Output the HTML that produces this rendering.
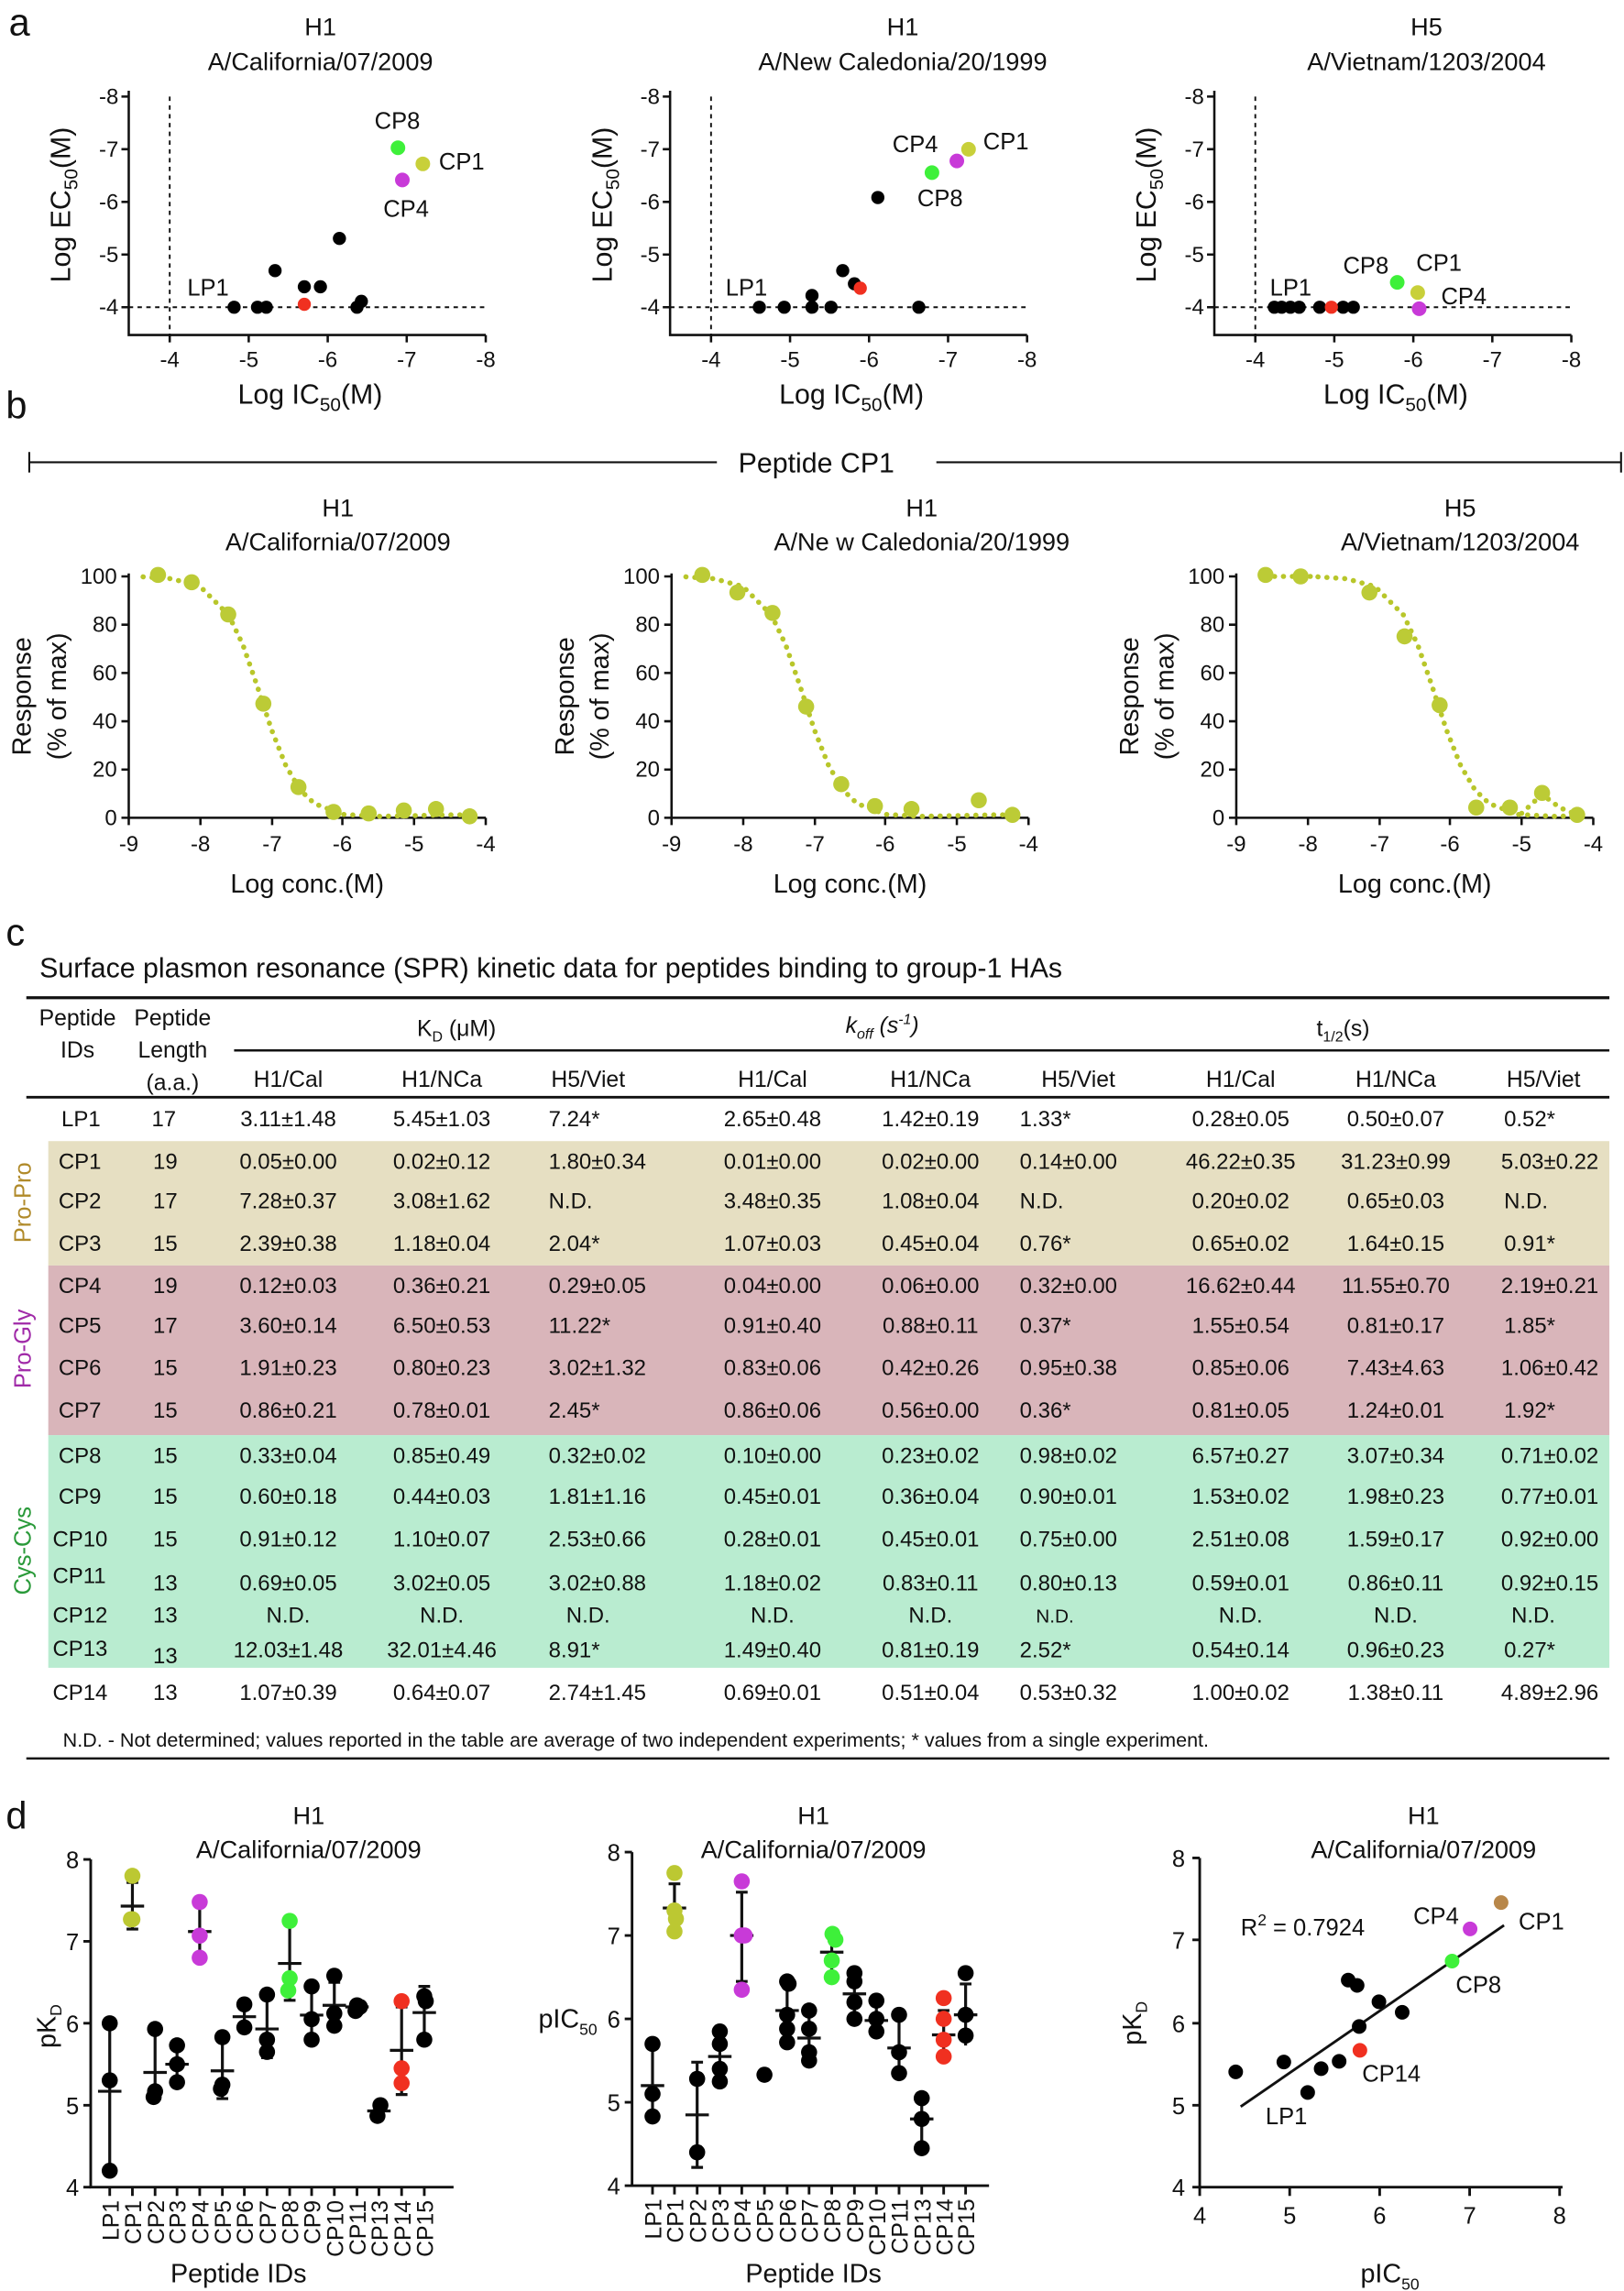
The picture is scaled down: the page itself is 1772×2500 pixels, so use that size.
<!DOCTYPE html>
<html><head><meta charset="utf-8"><style>
html,body{margin:0;padding:0;background:#fff}
svg{display:block}
text{font-family:"Liberation Sans",sans-serif;fill:#111}
</style></head><body>
<svg width="1772" height="2500" viewBox="0 0 1110 1566" preserveAspectRatio="none" xmlns="http://www.w3.org/2000/svg">
<text x="6" y="24" font-size="26">a</text>
<g font-size="17" text-anchor="middle">
<text x="219" y="24">H1</text><text x="219" y="48">A/California/07/2009</text>
<text x="617" y="24">H1</text><text x="617" y="48">A/New Caledonia/20/1999</text>
<text x="975" y="24">H5</text><text x="975" y="48">A/Vietnam/1203/2004</text>
</g>
<defs>
<g id="axA" stroke="#111" stroke-width="1.6" fill="none">
<path d="M88,62V229H332"/>
<path d="M83,66H88M83,102H88M83,138H88M83,174H88M83,210H88"/>
<path d="M116,229v5M170,229v5M224,229v5M278,229v5M332,229v5"/>
<path d="M116,66V229M88,210H332" stroke-dasharray="3 3" stroke-width="1.2"/>
</g>
<g id="axAt" font-size="15">
<g text-anchor="end"><text x="81" y="71">-8</text><text x="81" y="107">-7</text><text x="81" y="143">-6</text><text x="81" y="179">-5</text><text x="81" y="215">-4</text></g>
<g text-anchor="middle"><text x="116" y="251">-4</text><text x="170" y="251">-5</text><text x="224" y="251">-6</text><text x="278" y="251">-7</text><text x="332" y="251">-8</text></g>
<text transform="translate(48,140) rotate(-90)" text-anchor="middle" font-size="19">Log EC<tspan font-size="13" dy="5">50</tspan><tspan dy="-5">(M)</tspan></text>
<text x="212" y="276" text-anchor="middle" font-size="19">Log IC<tspan font-size="13" dy="5">50</tspan><tspan dy="-5">(M)</tspan></text>
</g>
<clipPath id="c3"><rect x="840" y="380" width="240" height="190"/></clipPath>
</defs>
<use href="#axA"/><use href="#axAt"/>
<use href="#axA" x="370"/><use href="#axAt" x="370"/>
<use href="#axA" x="742"/><use href="#axAt" x="742"/>
<g fill="#000">
<circle cx="160" cy="210" r="4.5"/><circle cx="176" cy="210" r="4.5"/><circle cx="182" cy="210" r="4.5"/><circle cx="188" cy="185" r="4.5"/><circle cx="208" cy="196" r="4.5"/><circle cx="219" cy="196" r="4.5"/><circle cx="232" cy="163" r="4.5"/><circle cx="247" cy="206" r="4.5"/><circle cx="244" cy="210" r="4.5"/>
</g>
<circle cx="208" cy="208" r="4.5" fill="#f03020"/>
<circle cx="272" cy="101" r="5" fill="#3ef03a"/><circle cx="289" cy="112" r="5" fill="#c8d03a"/><circle cx="275" cy="123" r="5" fill="#c83ad8"/>
<g font-size="16"><text x="256" y="88">CP8</text><text x="300" y="116">CP1</text><text x="262" y="148">CP4</text><text x="128" y="202">LP1</text></g>
<g fill="#000">
<circle cx="519" cy="210" r="4.5"/><circle cx="536" cy="210" r="4.5"/><circle cx="555" cy="210" r="4.5"/><circle cx="555" cy="202" r="4.5"/><circle cx="568" cy="210" r="4.5"/><circle cx="576" cy="185" r="4.5"/><circle cx="584" cy="194" r="4.5"/><circle cx="600" cy="135" r="4.5"/><circle cx="628" cy="210" r="4.5"/>
</g>
<circle cx="588" cy="197" r="4.5" fill="#f03020"/>
<circle cx="637" cy="118" r="5" fill="#3ef03a"/><circle cx="654" cy="110" r="5" fill="#c83ad8"/><circle cx="662" cy="102" r="5" fill="#c8d03a"/>
<g font-size="16"><text x="610" y="104">CP4</text><text x="672" y="102">CP1</text><text x="627" y="141">CP8</text><text x="496" y="202">LP1</text></g>
<g fill="#000">
<circle cx="871" cy="210" r="4.5"/><circle cx="876" cy="210" r="4.5"/><circle cx="882" cy="210" r="4.5"/><circle cx="888" cy="210" r="4.5"/><circle cx="902" cy="210" r="4.5"/><circle cx="918" cy="210" r="4.5"/><circle cx="925" cy="210" r="4.5"/>
</g>
<circle cx="910" cy="210" r="4.5" fill="#f03020"/>
<circle cx="955" cy="193" r="5" fill="#3ef03a"/><circle cx="969" cy="200" r="5" fill="#c8d03a"/><circle cx="970" cy="211" r="5" fill="#c83ad8"/>
<g font-size="16"><text x="918" y="187">CP8</text><text x="968" y="185">CP1</text><text x="985" y="208">CP4</text><text x="868" y="202">LP1</text></g>

<text x="4" y="286" font-size="26">b</text>
<path d="M20,309V323M20,316H490M640,316H1108M1108,309V323" stroke="#111" stroke-width="1.3" fill="none"/>
<text x="558" y="323" font-size="19" text-anchor="middle">Peptide CP1</text>
<g font-size="17" text-anchor="middle">
<text x="231" y="353">H1</text><text x="231" y="376">A/California/07/2009</text>
<text x="630" y="353">H1</text><text x="630" y="376">A/Ne w Caledonia/20/1999</text>
<text x="998" y="353">H5</text><text x="998" y="376">A/Vietnam/1203/2004</text>
</g>
<defs>
<g id="axB">
<g stroke="#111" stroke-width="1.6" fill="none">
<path d="M88,392V559H332"/>
<path d="M83,394H88M83,427H88M83,460H88M83,493H88M83,526H88M83,559H88"/>
<path d="M88,559v5M137,559v5M186,559v5M234,559v5M283,559v5M332,559v5"/>
</g>
<g font-size="15" text-anchor="end"><text x="80" y="399">100</text><text x="80" y="432">80</text><text x="80" y="465">60</text><text x="80" y="498">40</text><text x="80" y="531">20</text><text x="80" y="564">0</text></g>
<g font-size="15" text-anchor="middle"><text x="88" y="582">-9</text><text x="137" y="582">-8</text><text x="186" y="582">-7</text><text x="234" y="582">-6</text><text x="283" y="582">-5</text><text x="332" y="582">-4</text></g>
<text x="210" y="610" font-size="18" text-anchor="middle">Log conc.(M)</text>
</g>
<path id="curve" d="M97.8,394.3 L117.3,395.6 L136.8,400.9 L156.3,420.4 L166.1,441 L175.8,468.9 L185.6,498.8 L195.4,523.4 L205.1,539.9 L214.9,549.3 L234.4,556.7 L258.8,558 L283.2,557.5 L307.6,557 L322.2,557" fill="none" stroke="#b8c62a" stroke-width="3.5" stroke-dasharray="0.1 6" stroke-linecap="round"/>
</defs>
<use href="#axB"/><use href="#axB" x="371"/><use href="#axB" x="757"/>
<g font-size="18" text-anchor="middle">
<text transform="translate(21,476) rotate(-90)">Response</text><text transform="translate(45,476) rotate(-90)">(% of max)</text>
<text transform="translate(392,476) rotate(-90)">Response</text><text transform="translate(416,476) rotate(-90)">(% of max)</text>
<text transform="translate(778,476) rotate(-90)">Response</text><text transform="translate(802,476) rotate(-90)">(% of max)</text>
</g>
<use href="#curve"/>
<use href="#curve" x="371"/>
<g clip-path="url(#c3)"><g transform="translate(803,0)"><use href="#curve"/></g></g>
<path d="M865,394H900" stroke="#b8c62a" stroke-width="3.5" stroke-dasharray="0.1 6" stroke-linecap="round"/>
<path d="M1040,556 L1054,543 L1066,552 L1078,557" fill="none" stroke="#b8c62a" stroke-width="3.5" stroke-dasharray="0.1 6" stroke-linecap="round"/>
<g fill="#bccb36">
<circle cx="108" cy="393" r="5.5"/><circle cx="131" cy="398" r="5.5"/><circle cx="156" cy="420" r="5.5"/><circle cx="180" cy="481" r="5.5"/><circle cx="204" cy="538" r="5.5"/><circle cx="228" cy="555" r="5.5"/><circle cx="252" cy="556" r="5.5"/><circle cx="276" cy="554" r="5.5"/><circle cx="298" cy="553" r="5.5"/><circle cx="321" cy="558" r="5.5"/>
<circle cx="480" cy="393" r="5.5"/><circle cx="504" cy="405" r="5.5"/><circle cx="528" cy="419" r="5.5"/><circle cx="551" cy="483" r="5.5"/><circle cx="575" cy="536" r="5.5"/><circle cx="598" cy="551" r="5.5"/><circle cx="623" cy="553" r="5.5"/><circle cx="669" cy="547" r="5.5"/><circle cx="692" cy="557" r="5.5"/>
<circle cx="865" cy="393" r="5.5"/><circle cx="889" cy="394" r="5.5"/><circle cx="936" cy="405" r="5.5"/><circle cx="960" cy="435" r="5.5"/><circle cx="984" cy="482" r="5.5"/><circle cx="1009" cy="552" r="5.5"/><circle cx="1032" cy="552" r="5.5"/><circle cx="1054" cy="542" r="5.5"/><circle cx="1078" cy="557" r="5.5"/>
</g>

<text x="4" y="646" font-size="26">c</text>
<text x="27" y="668" font-size="19">Surface plasmon resonance (SPR) kinetic data for peptides binding to group-1 HAs</text>
<rect x="33" y="780" width="1067" height="85" fill="#e6dfc2"/>
<rect x="33" y="865" width="1067" height="116" fill="#d9b5ba"/>
<rect x="33" y="981" width="1067" height="159" fill="#b9ecd0"/>
<g stroke="#111" fill="none">
<path d="M18,682H1100" stroke-width="2"/>
<path d="M160,718H1100" stroke-width="1.6"/>
<path d="M18,750H1100" stroke-width="1.8"/>
<path d="M18,1202H1100" stroke-width="1.6"/>
</g>
<g font-size="15.5" text-anchor="middle">
<text x="53" y="701">Peptide</text><text x="53" y="723">IDs</text>
<text x="118" y="701">Peptide</text><text x="118" y="723">Length</text><text x="118" y="745">(a.a.)</text>
<text x="312" y="708">K<tspan font-size="10" dy="4">D</tspan><tspan dy="-4"> (μM)</tspan></text>
<text x="603" y="706" font-style="italic">k<tspan font-size="10" dy="4">off</tspan><tspan dy="-4"> (s</tspan><tspan font-size="10" dy="-6">-1</tspan><tspan dy="6">)</tspan></text>
<text x="918" y="708">t<tspan font-size="10" dy="4">1/2</tspan><tspan dy="-4">(s)</tspan></text>
<text x="197" y="743">H1/Cal</text><text x="302" y="743">H1/NCa</text><text x="402" y="743">H5/Viet</text>
<text x="528" y="743">H1/Cal</text><text x="636" y="743">H1/NCa</text><text x="737" y="743">H5/Viet</text>
<text x="848" y="743">H1/Cal</text><text x="954" y="743">H1/NCa</text><text x="1055" y="743">H5/Viet</text>
</g>
<g font-size="16" text-anchor="middle">
<text transform="translate(21,822) rotate(-90)" style="fill:#b08a2a">Pro-Pro</text>
<text transform="translate(21,922) rotate(-90)" style="fill:#a02aa8">Pro-Gly</text>
<text transform="translate(21,1060) rotate(-90)" style="fill:#2a9a3a">Cys-Cys</text>
</g>
<g font-size="15">
<g>
<text x="42" y="770">LP1</text><text x="40" y="799">CP1</text><text x="40" y="826">CP2</text><text x="40" y="855">CP3</text>
<text x="40" y="884">CP4</text><text x="40" y="911">CP5</text><text x="40" y="940">CP6</text><text x="40" y="969">CP7</text>
<text x="40" y="1000">CP8</text><text x="40" y="1028">CP9</text><text x="36" y="1057">CP10</text><text x="36" y="1082">CP11</text>
<text x="36" y="1109">CP12</text><text x="36" y="1132">CP13</text><text x="36" y="1162">CP14</text>
</g>
<g text-anchor="middle">
<text x="112" y="770">17</text><text x="113" y="799">19</text><text x="113" y="826">17</text><text x="113" y="855">15</text>
<text x="113" y="884">19</text><text x="113" y="911">17</text><text x="113" y="940">15</text><text x="113" y="969">15</text>
<text x="113" y="1000">15</text><text x="113" y="1028">15</text><text x="113" y="1057">15</text><text x="113" y="1087">13</text>
<text x="113" y="1109">13</text><text x="113" y="1137">13</text><text x="113" y="1162">13</text>
</g>
<g text-anchor="middle">
<text x="197" y="770">3.11±1.48</text><text x="302" y="770">5.45±1.03</text><text x="528" y="770">2.65±0.48</text><text x="636" y="770">1.42±0.19</text><text x="848" y="770">0.28±0.05</text><text x="954" y="770">0.50±0.07</text>
<text x="197" y="799">0.05±0.00</text><text x="302" y="799">0.02±0.12</text><text x="528" y="799">0.01±0.00</text><text x="636" y="799">0.02±0.00</text><text x="848" y="799">46.22±0.35</text><text x="954" y="799">31.23±0.99</text>
<text x="197" y="826">7.28±0.37</text><text x="302" y="826">3.08±1.62</text><text x="528" y="826">3.48±0.35</text><text x="636" y="826">1.08±0.04</text><text x="848" y="826">0.20±0.02</text><text x="954" y="826">0.65±0.03</text>
<text x="197" y="855">2.39±0.38</text><text x="302" y="855">1.18±0.04</text><text x="528" y="855">1.07±0.03</text><text x="636" y="855">0.45±0.04</text><text x="848" y="855">0.65±0.02</text><text x="954" y="855">1.64±0.15</text>
<text x="197" y="884">0.12±0.03</text><text x="302" y="884">0.36±0.21</text><text x="528" y="884">0.04±0.00</text><text x="636" y="884">0.06±0.00</text><text x="848" y="884">16.62±0.44</text><text x="954" y="884">11.55±0.70</text>
<text x="197" y="911">3.60±0.14</text><text x="302" y="911">6.50±0.53</text><text x="528" y="911">0.91±0.40</text><text x="636" y="911">0.88±0.11</text><text x="848" y="911">1.55±0.54</text><text x="954" y="911">0.81±0.17</text>
<text x="197" y="940">1.91±0.23</text><text x="302" y="940">0.80±0.23</text><text x="528" y="940">0.83±0.06</text><text x="636" y="940">0.42±0.26</text><text x="848" y="940">0.85±0.06</text><text x="954" y="940">7.43±4.63</text>
<text x="197" y="969">0.86±0.21</text><text x="302" y="969">0.78±0.01</text><text x="528" y="969">0.86±0.06</text><text x="636" y="969">0.56±0.00</text><text x="848" y="969">0.81±0.05</text><text x="954" y="969">1.24±0.01</text>
<text x="197" y="1000">0.33±0.04</text><text x="302" y="1000">0.85±0.49</text><text x="528" y="1000">0.10±0.00</text><text x="636" y="1000">0.23±0.02</text><text x="848" y="1000">6.57±0.27</text><text x="954" y="1000">3.07±0.34</text>
<text x="197" y="1028">0.60±0.18</text><text x="302" y="1028">0.44±0.03</text><text x="528" y="1028">0.45±0.01</text><text x="636" y="1028">0.36±0.04</text><text x="848" y="1028">1.53±0.02</text><text x="954" y="1028">1.98±0.23</text>
<text x="197" y="1057">0.91±0.12</text><text x="302" y="1057">1.10±0.07</text><text x="528" y="1057">0.28±0.01</text><text x="636" y="1057">0.45±0.01</text><text x="848" y="1057">2.51±0.08</text><text x="954" y="1057">1.59±0.17</text>
<text x="197" y="1087">0.69±0.05</text><text x="302" y="1087">3.02±0.05</text><text x="528" y="1087">1.18±0.02</text><text x="636" y="1087">0.83±0.11</text><text x="848" y="1087">0.59±0.01</text><text x="954" y="1087">0.86±0.11</text>
<text x="197" y="1109">N.D.</text><text x="302" y="1109">N.D.</text><text x="528" y="1109">N.D.</text><text x="636" y="1109">N.D.</text><text x="848" y="1109">N.D.</text><text x="954" y="1109">N.D.</text>
<text x="197" y="1133">12.03±1.48</text><text x="302" y="1133">32.01±4.46</text><text x="528" y="1133">1.49±0.40</text><text x="636" y="1133">0.81±0.19</text><text x="848" y="1133">0.54±0.14</text><text x="954" y="1133">0.96±0.23</text>
<text x="197" y="1162">1.07±0.39</text><text x="302" y="1162">0.64±0.07</text><text x="528" y="1162">0.69±0.01</text><text x="636" y="1162">0.51±0.04</text><text x="848" y="1162">1.00±0.02</text><text x="954" y="1162">1.38±0.11</text>
</g>
<g>
<text x="375" y="770">7.24*</text><text x="697" y="770">1.33*</text><text x="1028" y="770">0.52*</text>
<text x="375" y="799">1.80±0.34</text><text x="697" y="799">0.14±0.00</text><text x="1026" y="799">5.03±0.22</text>
<text x="375" y="826">N.D.</text><text x="697" y="826">N.D.</text><text x="1028" y="826">N.D.</text>
<text x="375" y="855">2.04*</text><text x="697" y="855">0.76*</text><text x="1028" y="855">0.91*</text>
<text x="375" y="884">0.29±0.05</text><text x="697" y="884">0.32±0.00</text><text x="1026" y="884">2.19±0.21</text>
<text x="375" y="911">11.22*</text><text x="697" y="911">0.37*</text><text x="1028" y="911">1.85*</text>
<text x="375" y="940">3.02±1.32</text><text x="697" y="940">0.95±0.38</text><text x="1026" y="940">1.06±0.42</text>
<text x="375" y="969">2.45*</text><text x="697" y="969">0.36*</text><text x="1028" y="969">1.92*</text>
<text x="375" y="1000">0.32±0.02</text><text x="697" y="1000">0.98±0.02</text><text x="1026" y="1000">0.71±0.02</text>
<text x="375" y="1028">1.81±1.16</text><text x="697" y="1028">0.90±0.01</text><text x="1026" y="1028">0.77±0.01</text>
<text x="375" y="1057">2.53±0.66</text><text x="697" y="1057">0.75±0.00</text><text x="1026" y="1057">0.92±0.00</text>
<text x="375" y="1087">3.02±0.88</text><text x="697" y="1087">0.80±0.13</text><text x="1026" y="1087">0.92±0.15</text>
<text x="387" y="1109">N.D.</text><text x="708" y="1109" font-size="13">N.D.</text><text x="1033" y="1109">N.D.</text>
<text x="375" y="1133">8.91*</text><text x="697" y="1133">2.52*</text><text x="1028" y="1133">0.27*</text>
<text x="375" y="1162">2.74±1.45</text><text x="697" y="1162">0.53±0.32</text><text x="1026" y="1162">4.89±2.96</text>
</g>
</g>
<text x="43" y="1194" font-size="13.5">N.D. - Not determined; values reported in the table are average of two independent experiments; * values from a single experiment.</text>

<text x="4" y="1250" font-size="26">d</text>
<g font-size="17" text-anchor="middle">
<text x="211" y="1247">H1</text><text x="211" y="1270">A/California/07/2009</text>
<text x="556" y="1247">H1</text><text x="556" y="1270">A/California/07/2009</text>
<text x="973" y="1247">H1</text><text x="973" y="1270">A/California/07/2009</text>
</g>
<g stroke="#111" stroke-width="1.8" fill="none">
<path d="M62,1271V1495H310"/>
<path d="M57,1271H62M57,1327H62M57,1383H62M57,1439H62M57,1495H62"/>
<path d="M75,1495v6M90.5,1495v6M106,1495v6M121,1495v6M136.5,1495v6M152,1495v6M167,1495v6M182.5,1495v6M198,1495v6M213,1495v6M228.5,1495v6M244,1495v6M259,1495v6M274.5,1495v6M290,1495v6"/>
</g>
<g font-size="16" text-anchor="end"><text x="54" y="1277">8</text><text x="54" y="1333">7</text><text x="54" y="1389">6</text><text x="54" y="1445">5</text><text x="54" y="1501">4</text></g>
<text transform="translate(38,1385) rotate(-90)" text-anchor="middle" font-size="18">pK<tspan font-size="11" dy="4">D</tspan></text>
<g font-size="15.5" text-anchor="end">
<text transform="translate(81,1504) rotate(-90)">LP1</text><text transform="translate(96.5,1504) rotate(-90)">CP1</text><text transform="translate(112,1504) rotate(-90)">CP2</text><text transform="translate(127,1504) rotate(-90)">CP3</text><text transform="translate(142.5,1504) rotate(-90)">CP4</text><text transform="translate(158,1504) rotate(-90)">CP5</text><text transform="translate(173,1504) rotate(-90)">CP6</text><text transform="translate(188.5,1504) rotate(-90)">CP7</text><text transform="translate(204,1504) rotate(-90)">CP8</text><text transform="translate(219,1504) rotate(-90)">CP9</text><text transform="translate(234.5,1504) rotate(-90)">CP10</text><text transform="translate(250,1504) rotate(-90)">CP11</text><text transform="translate(265,1504) rotate(-90)">CP13</text><text transform="translate(280.5,1504) rotate(-90)">CP14</text><text transform="translate(296,1504) rotate(-90)">CP15</text>
</g>
<text x="163" y="1560" font-size="18" text-anchor="middle">Peptide IDs</text>
<g stroke="#111" stroke-width="2" fill="none">
<path d="M75,1483.8V1380.2M71,1380.2h8M67,1429.5h16"/>
<path d="M90.5,1318.6V1286.7M86.5,1318.6h8M86.5,1286.7h8M82.5,1302.9h16"/>
<path d="M106,1434.5V1387.5M102,1434.5h8M102,1387.5h8M98,1416.6h16"/>
<path d="M121,1423.3V1398.7M117,1423.3h8M117,1398.7h8M113,1411h16"/>
<path d="M136.5,1338.2V1301.8M132.5,1301.8h8M128.5,1320.3h16"/>
<path d="M152,1434.5V1394.2M148,1434.5h8M148,1394.2h8M144,1415.5h16"/>
<path d="M167,1388.6V1367.9M163,1388.6h8M163,1367.9h8M159,1378.5h16"/>
<path d="M182.5,1406.5V1366.2M178.5,1406.5h8M178.5,1366.2h8M174.5,1386.9h16"/>
<path d="M198,1367.3V1315.8M194,1367.3h8M194,1315.8h8M190,1342.1h16"/>
<path d="M213,1394.2V1357.8M209,1357.8h8M205,1377.4h16"/>
<path d="M228.5,1385.8V1355M224.5,1385.8h8M224.5,1355h8M220.5,1370.7h16"/>
<path d="M244,1376.3V1369M240,1376.3h8M240,1369h8M236,1371.8h16"/>
<path d="M259,1446.8V1439M255,1446.8h8M251,1442.9h16"/>
<path d="M274.5,1431.7V1371.8M270.5,1431.7h8M270.5,1371.8h8M266.5,1401.5h16"/>
<path d="M290,1394.2V1357.8M286,1357.8h8M282,1375.7h16"/>
</g>
<g fill="#000">
<circle cx="75" cy="1383" r="5.5"/><circle cx="75" cy="1422" r="5.5"/><circle cx="75" cy="1483.8" r="5.5"/>
<circle cx="106" cy="1386.9" r="5.5"/><circle cx="106" cy="1429.5" r="5.5"/><circle cx="105" cy="1433.4" r="5.5"/>
<circle cx="121" cy="1398.1" r="5.5"/><circle cx="121" cy="1411" r="5.5"/><circle cx="121" cy="1423.3" r="5.5"/>
<circle cx="152" cy="1392.5" r="5.5"/><circle cx="152" cy="1425" r="5.5"/><circle cx="151" cy="1427.8" r="5.5"/>
<circle cx="167" cy="1370.1" r="5.5"/><circle cx="167" cy="1385.8" r="5.5"/>
<circle cx="182.5" cy="1363.4" r="5.5"/><circle cx="182.5" cy="1394.2" r="5.5"/><circle cx="182.5" cy="1402.6" r="5.5"/>
<circle cx="213" cy="1357.8" r="5.5"/><circle cx="213" cy="1380.2" r="5.5"/><circle cx="213" cy="1394.2" r="5.5"/>
<circle cx="228.5" cy="1350.5" r="5.5"/><circle cx="228.5" cy="1376.3" r="5.5"/><circle cx="228.5" cy="1384.7" r="5.5"/>
<circle cx="244" cy="1370.7" r="5.5"/><circle cx="246" cy="1371.8" r="5.5"/><circle cx="243" cy="1374.6" r="5.5"/>
<circle cx="260" cy="1439" r="5.5"/><circle cx="258" cy="1446.3" r="5.5"/>
<circle cx="290" cy="1364.5" r="5.5"/><circle cx="291" cy="1367.9" r="5.5"/><circle cx="290" cy="1394.2" r="5.5"/>
</g>
<g fill="#bcc832"><circle cx="90.5" cy="1282.2" r="5.5"/><circle cx="90.5" cy="1311.9" r="5.5"/><circle cx="89.5" cy="1311.9" r="5.5"/></g>
<g fill="#c83ad8"><circle cx="136.5" cy="1300.1" r="5.5"/><circle cx="136.5" cy="1323.1" r="5.5"/><circle cx="136.5" cy="1338.2" r="5.5"/></g>
<g fill="#3ef03a"><circle cx="198" cy="1313" r="5.5"/><circle cx="198" cy="1352.2" r="5.5"/><circle cx="197" cy="1360.6" r="5.5"/></g>
<g fill="#f03020"><circle cx="274.5" cy="1367.9" r="5.5"/><circle cx="274.5" cy="1413.8" r="5.5"/><circle cx="274.5" cy="1423.9" r="5.5"/></g>

<g stroke="#111" stroke-width="1.8" fill="none">
<path d="M432,1266V1494H676"/>
<path d="M427,1266H432M427,1323H432M427,1380H432M427,1437H432M427,1494H432"/>
<path d="M446,1494v6M461,1494v6M476.5,1494v6M492,1494v6M507,1494v6M522.5,1494v6M538,1494v6M553,1494v6M568.5,1494v6M584,1494v6M599,1494v6M614.5,1494v6M630,1494v6M645,1494v6M660,1494v6"/>
</g>
<g font-size="16" text-anchor="end"><text x="424" y="1272">8</text><text x="424" y="1329">7</text><text x="424" y="1386">6</text><text x="424" y="1443">5</text><text x="424" y="1500">4</text></g>
<text x="368" y="1386" font-size="18">pIC<tspan font-size="11" dy="5">50</tspan></text>
<g font-size="15.5" text-anchor="end">
<text transform="translate(452,1503) rotate(-90)">LP1</text><text transform="translate(467,1503) rotate(-90)">CP1</text><text transform="translate(482.5,1503) rotate(-90)">CP2</text><text transform="translate(498,1503) rotate(-90)">CP3</text><text transform="translate(513,1503) rotate(-90)">CP4</text><text transform="translate(528.5,1503) rotate(-90)">CP5</text><text transform="translate(544,1503) rotate(-90)">CP6</text><text transform="translate(559,1503) rotate(-90)">CP7</text><text transform="translate(574.5,1503) rotate(-90)">CP8</text><text transform="translate(590,1503) rotate(-90)">CP9</text><text transform="translate(605,1503) rotate(-90)">CP10</text><text transform="translate(620.5,1503) rotate(-90)">CP11</text><text transform="translate(636,1503) rotate(-90)">CP13</text><text transform="translate(651,1503) rotate(-90)">CP14</text><text transform="translate(666,1503) rotate(-90)">CP15</text>
</g>
<text x="556" y="1560" font-size="18" text-anchor="middle">Peptide IDs</text>
<g stroke="#111" stroke-width="2" fill="none">
<path d="M446,1446.7V1397.1M442,1397.1h8M438,1425.6h16"/>
<path d="M461,1320.2V1287.7M457,1287.7h8M453,1304.2h16"/>
<path d="M476.5,1481.5V1409.6M472.5,1481.5h8M472.5,1409.6h8M468.5,1445.6h16"/>
<path d="M492,1422.8V1388.6M484,1405.7h16"/>
<path d="M507,1354.4V1293.4M503,1354.4h8M503,1293.4h8M499,1323h16"/>
<path d="M538,1394.3V1354.4M534,1354.4h8M530,1374.3h16"/>
<path d="M553,1408.5V1377.2M549,1377.2h8M545,1393.1h16"/>
<path d="M568.5,1348.7V1323M564.5,1348.7h8M564.5,1323h8M560.5,1334.4h16"/>
<path d="M584,1380V1348.7M580,1348.7h8M576,1362.9h16"/>
<path d="M599,1386.8V1368.6M595,1368.6h8M591,1381.1h16"/>
<path d="M614.5,1419.9V1380M610.5,1380h8M606.5,1399.9h16"/>
<path d="M630,1468.4V1431.3M626,1431.3h8M622,1448.4h16"/>
<path d="M645,1408.5V1374.3M641,1374.3h8M637,1390.9h16"/>
<path d="M660,1398.2V1356.1M656,1356.1h8M652,1377.2h16"/>
</g>
<g fill="#000">
<circle cx="446" cy="1397.1" r="5.5"/><circle cx="446" cy="1431.3" r="5.5"/><circle cx="446" cy="1446.7" r="5.5"/>
<circle cx="476.5" cy="1421" r="5.5"/><circle cx="476.5" cy="1471.2" r="5.5"/>
<circle cx="492" cy="1388.6" r="5.5"/><circle cx="492" cy="1397.1" r="5.5"/><circle cx="492" cy="1414.2" r="5.5"/><circle cx="492" cy="1422.8" r="5.5"/>
<circle cx="522.5" cy="1418.2" r="5.5"/>
<circle cx="538" cy="1354.4" r="5.5"/><circle cx="539" cy="1356" r="5.5"/><circle cx="538" cy="1377.2" r="5.5"/><circle cx="538" cy="1386.8" r="5.5"/><circle cx="538" cy="1396" r="5.5"/>
<circle cx="553" cy="1374.3" r="5.5"/><circle cx="553" cy="1386.8" r="5.5"/><circle cx="553" cy="1402.8" r="5.5"/><circle cx="553" cy="1408.5" r="5.5"/>
<circle cx="584" cy="1348.7" r="5.5"/><circle cx="584" cy="1354.4" r="5.5"/><circle cx="584" cy="1368.6" r="5.5"/><circle cx="584" cy="1380" r="5.5"/>
<circle cx="599" cy="1367.5" r="5.5"/><circle cx="599" cy="1380" r="5.5"/><circle cx="599" cy="1388.6" r="5.5"/>
<circle cx="614.5" cy="1377.2" r="5.5"/><circle cx="614.5" cy="1402.8" r="5.5"/><circle cx="614.5" cy="1417.1" r="5.5"/>
<circle cx="630" cy="1434.2" r="5.5"/><circle cx="630" cy="1448.4" r="5.5"/><circle cx="630" cy="1468.4" r="5.5"/>
<circle cx="660" cy="1348.7" r="5.5"/><circle cx="660" cy="1377.2" r="5.5"/><circle cx="660" cy="1391.4" r="5.5"/>
</g>
<g fill="#bcc832"><circle cx="461" cy="1280.3" r="5.5"/><circle cx="461" cy="1305.9" r="5.5"/><circle cx="462" cy="1311.6" r="5.5"/><circle cx="461" cy="1320.2" r="5.5"/></g>
<g fill="#c83ad8"><circle cx="507" cy="1286" r="5.5"/><circle cx="507" cy="1323" r="5.5"/><circle cx="509" cy="1323" r="5.5"/><circle cx="507" cy="1360.1" r="5.5"/></g>
<g fill="#3ef03a"><circle cx="569" cy="1321.9" r="5.5"/><circle cx="571" cy="1325.9" r="5.5"/><circle cx="568.5" cy="1340.1" r="5.5"/><circle cx="568.5" cy="1351.5" r="5.5"/></g>
<g fill="#f03020"><circle cx="645" cy="1365.8" r="5.5"/><circle cx="645" cy="1380" r="5.5"/><circle cx="645" cy="1394.3" r="5.5"/><circle cx="645" cy="1405.7" r="5.5"/></g>

<g stroke="#111" stroke-width="1.8" fill="none">
<path d="M820,1270V1495H1068"/>
<path d="M815,1270H820M815,1326H820M815,1383H820M815,1439H820M815,1495H820"/>
<path d="M820,1495v6M881.5,1495v6M943,1495v6M1004.5,1495v6M1066,1495v6"/>
<path d="M848,1440L1028,1316" stroke-width="1.8"/>
</g>
<g font-size="16" text-anchor="end"><text x="810" y="1276">8</text><text x="810" y="1332">7</text><text x="810" y="1389">6</text><text x="810" y="1445">5</text><text x="810" y="1501">4</text></g>
<g font-size="16" text-anchor="middle"><text x="820" y="1520">4</text><text x="881.5" y="1520">5</text><text x="943" y="1520">6</text><text x="1004.5" y="1520">7</text><text x="1066" y="1520">8</text></g>
<text transform="translate(780,1383) rotate(-90)" text-anchor="middle" font-size="18">pK<tspan font-size="11" dy="4">D</tspan></text>
<text x="950" y="1560" font-size="18" text-anchor="middle">pIC<tspan font-size="11" dy="5">50</tspan></text>
<text x="848" y="1323" font-size="16">R<tspan font-size="11" dy="-7">2</tspan><tspan dy="7"> = 0.7924</tspan></text>
<g fill="#000">
<circle cx="844.6" cy="1416.2" r="5"/><circle cx="877.5" cy="1409.5" r="5"/><circle cx="893.8" cy="1430.3" r="5"/><circle cx="903" cy="1414" r="5"/><circle cx="915.3" cy="1409" r="5"/><circle cx="921.5" cy="1353.5" r="5"/><circle cx="927.6" cy="1357.1" r="5"/><circle cx="929" cy="1385.2" r="5"/><circle cx="942.5" cy="1368.3" r="5"/><circle cx="958.4" cy="1375.5" r="5"/>
</g>
<circle cx="929.5" cy="1401.5" r="5" fill="#f03020"/>
<circle cx="992.5" cy="1340.5" r="5" fill="#3ef03a"/>
<circle cx="1004.8" cy="1318.5" r="5" fill="#c83ad8"/>
<circle cx="1026" cy="1300.5" r="5" fill="#b8874a"/>
<g font-size="16"><text x="966" y="1315">CP4</text><text x="1038" y="1319">CP1</text><text x="995" y="1362">CP8</text><text x="931" y="1423">CP14</text><text x="865" y="1452">LP1</text></g>
</svg>
</body></html>
